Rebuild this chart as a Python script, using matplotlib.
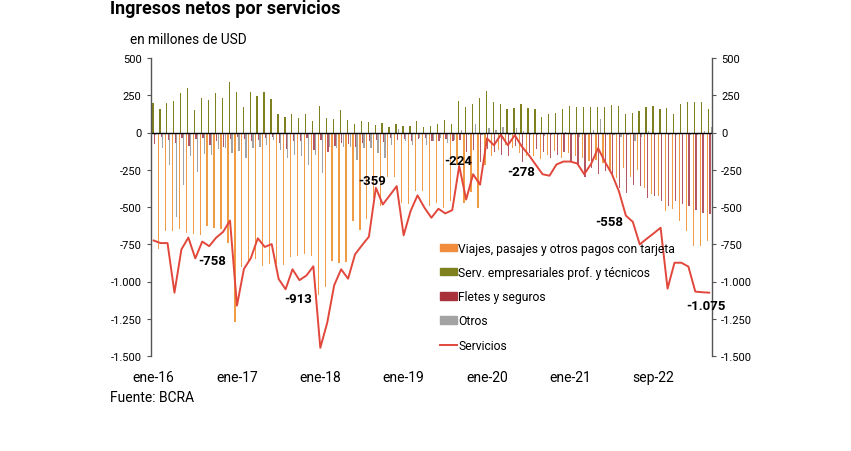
import numpy as np
import matplotlib
matplotlib.use('Agg')
import matplotlib.pyplot as plt
from matplotlib.patches import Patch
from matplotlib.lines import Line2D

plt.rcParams['font.family'] = ['Roboto', 'DejaVu Sans']

# monthly data, ene-16 .. sep-22 (millones de USD)
viajes = [-785, -780, -661, -661, -650, -677, -684, -690, -625, -640, -650, -744,
          -1275, -903, -874, -850, -896, -885, -880, -889, -835, -831, -818, -831,
          -1090, -1035, -862, -874, -868, -594, -657, -578, -440, -494, -300, -300,
          -470, -480, -390, -395, -496, -470, -507, -462, -217, -470, -400, -507,
          -217, -161, -116, -83, -105, -139, -161, -161, -176, -150, -127, -168,
          -139, -161, -172, -190, -183, -205, -261, -306, -240, -300, -250, -371,
          -415, -427, -527, -516, -594, -661, -761, -761, -728]
serv_empresariales = [195, 155, 195, 210, 267, 300, 150, 230, 219, 267, 230, 337,
                      275, 170, 270, 246, 275, 223, 123, 105, 123, 96, 127, 78,
                      179, 96, 89, 150, 83, 56, 74, 73, 52, 65, 38, 55,
                      45, 42, 80, 38, 43, 60, 83, 59, 214, 170, 190, 230,
                      280, 203, 188, 158, 167, 188, 165, 156, 105, 127, 132, 159,
                      179, 168, 170, 170, 170, 170, 183, 181, 125, 132, 145, 171,
                      180, 160, 166, 126, 190, 206, 204, 202, 157]
fletes = [-80, -30, -50, -70, -40, -90, -45, -40, -85, -60, -95, -45,
          -30, -45, -60, -50, -40, -30, -70, -110, -60, -55, -40, -120,
          -50, -130, -90, -70, -75, -95, -70, -60, -50, -65, -40, -50,
          -45, -60, -45, -40, -60, -55, -45, -60, -50, -130, -120, -200,
          -110, -130, -150, -160, -90, -200, -140, -110, -130, -170, -150, -130,
          -190, -220, -300, -240, -280, -260, -300, -370, -404, -349, -360, -438,
          -427, -460, -494, -460, -483, -494, -520, -540, -550]
otros = [-20, -105, -215, -565, -355, -160, -265, -145, -150, -110, -105, -140,
         -125, -170, -105, -100, -83, -50, -116, -172, -150, -161, -217, -150,
         -273, -94, -105, -94, -94, -183, -105, -105, -139, -172, -83, 25,
         -60, -83, -38, -83, -60, -40, -70, -50, 15, -20, 60, -20,
         30, 20, 40, -20, 30, 10, -15, -20, -25, -15, -20, 5,
         -20, -30, -20, 15, 90, -15, -20, -30, -20, -60, -30, 10,
         -20, -10, -20, -15, -10, -20, -15, 10, 40]
servicios = [-725, -742, -742, -1075, -785, -705, -845, -732, -763, -706, -667, -591,
             -1162, -916, -843, -710, -768, -749, -983, -1052, -918, -991, -960, -898,
             -1445, -1276, -1025, -918, -981, -818, -757, -699, -371, -483, -422, -360,
             -690, -527, -422, -505, -572, -512, -543, -521, -224, -450, -280, -350,
             -40, -85, -15, -85, -18, -93, -150, -215, -280, -290, -215, -195,
             -195, -208, -280, -210, -105, -198, -280, -395, -558, -600, -751, -713,
             -677, -639, -1048, -874, -874, -900, -1068, -1072, -1075]

tick_pos = [0, 12, 24, 36, 48, 60, 72]
tick_labels = ['ene-16', 'ene-17', 'ene-18', 'ene-19', 'ene-20', 'ene-21', 'sep-22']
y_ticks = [500, 250, 0, -250, -500, -750, -1000, -1250, -1500]

# (x index, y value, text)
notes = [(8.4, -860, '-758'), (20.8, -1115, '-913'), (31.5, -322, '-359'),
         (43.9, -188, '-224'), (52.9, -263, '-278'), (65.6, -600, '-558'),
         (79.5, -1158, '-1.075')]

c_viajes = '#F29B45'
c_serv = '#7F8020'
c_fletes = '#B55665'
c_otros = '#A3A3A3'
c_line = '#E2473B'

x = np.arange(len(servicios))
w = 0.18

fig = plt.figure(figsize=(8.51, 4.52), dpi=100)
ax = fig.add_axes([150.5 / 851, 1 - 357 / 452, 561.5 / 851, 298 / 452])

ax.bar(x - 0.3, viajes, width=w, color=c_viajes, linewidth=0)
ax.bar(x - 0.1, serv_empresariales, width=w, color=c_serv, linewidth=0)
ax.bar(x + 0.1, fletes, width=w, color=c_fletes, linewidth=0)
ax.bar(x + 0.3, otros, width=w, color=c_otros, linewidth=0)
ax.plot(x, servicios, color=c_line, lw=1.4)
ax.axhline(0, color='black', lw=1.0)

ax.set_xlim(-0.45, 80.4)
ax.set_ylim(-1500, 500)
ax.set_yticks(y_ticks)
ax.set_yticklabels([f'{v:,}'.replace(',', '.') for v in y_ticks])
ax.set_xticks(tick_pos)
ax.set_xticklabels(tick_labels, fontsize=10)
ax.tick_params(axis='x', length=0, pad=10)
ax.tick_params(axis='y', labelsize=8, length=3, color='#555555',
               right=True, labelright=True, direction='out')

for s in ['top', 'bottom']:
    ax.spines[s].set_visible(False)
for s in ['left', 'right']:
    ax.spines[s].set_color('#555555')
    ax.spines[s].set_linewidth(1.0)

for xi, yi, t in notes:
    ax.text(xi, yi, t, fontsize=9.5, fontweight='bold', ha='center', va='center')

handles = [Patch(color='#F08C3C', label='Viajes, pasajes y otros pagos con tarjeta'),
           Patch(color=c_serv, label='Serv. empresariales prof. y técnicos'),
           Patch(color='#A8323C', label='Fletes y seguros'),
           Patch(color=c_otros, label='Otros'),
           Line2D([], [], color=c_line, lw=1.4, label='Servicios')]
ax.legend(handles=handles, loc='upper left', bbox_to_anchor=(0.5, 0.412),
          frameon=False, fontsize=8.7, labelspacing=0.93, handlelength=1.45,
          handleheight=0.55, handletextpad=0.1, borderpad=0.2)

fig.text(110 / 851, 1 - 9 / 452, 'Ingresos netos por servicios', fontsize=13,
         fontweight='bold', va='center')
fig.text(130 / 851, 1 - 40 / 452, 'en millones de USD', fontsize=9.8, va='center')
fig.text(110 / 851, 1 - 398 / 452, 'Fuente: BCRA', fontsize=10, va='center')

fig.savefig('out.png', dpi=100)
